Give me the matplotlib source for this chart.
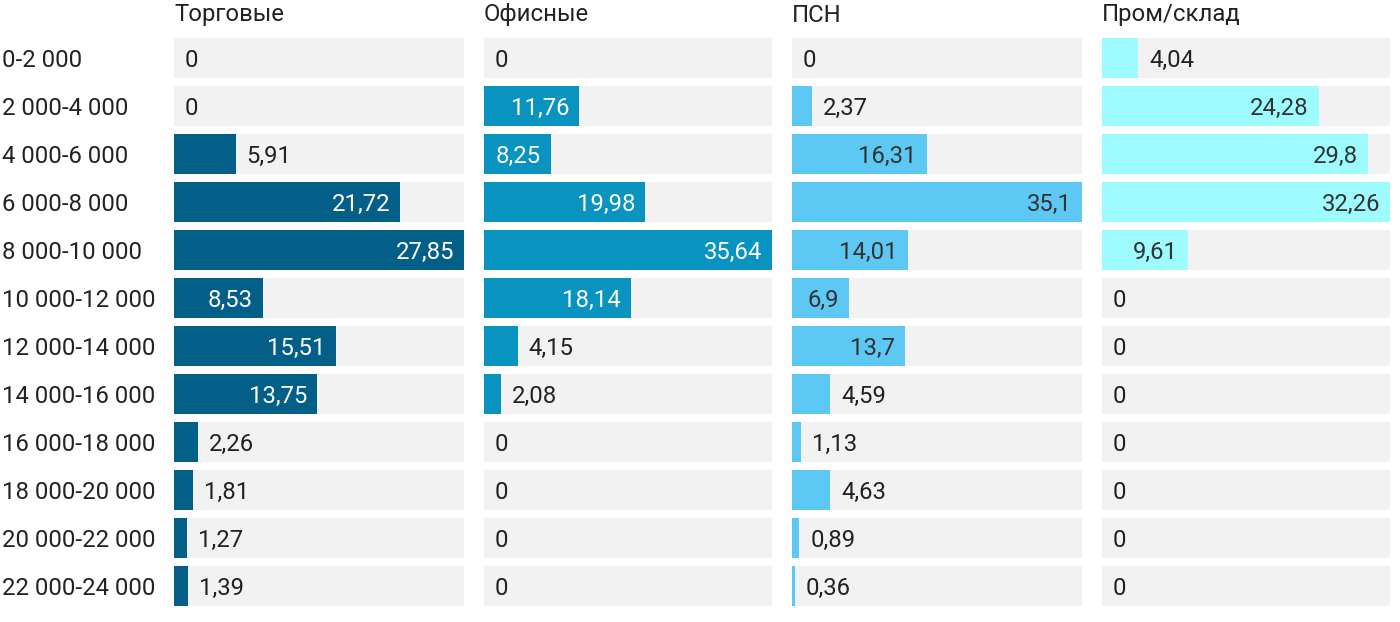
import numpy as np
import matplotlib
matplotlib.use("Agg")
from matplotlib import pyplot as plt

plt.rcParams['font.family'] = ['Roboto', 'DejaVu Sans']

categories = ['0-2 000', '2 000-4 000', '4 000-6 000', '6 000-8 000', '8 000-10 000',
              '10 000-12 000', '12 000-14 000', '14 000-16 000', '16 000-18 000',
              '18 000-20 000', '20 000-22 000', '22 000-24 000']

titles = ['Торговые', 'Офисные', 'ПСН', 'Пром/склад']

torg = [0, 0, 5.91, 21.72, 27.85, 8.53, 15.51, 13.75, 2.26, 1.81, 1.27, 1.39]
ofis = [0, 11.76, 8.25, 19.98, 35.64, 18.14, 4.15, 2.08, 0, 0, 0, 0]
psn = [0, 2.37, 16.31, 35.1, 14.01, 6.9, 13.7, 4.59, 1.13, 4.63, 0.89, 0.36]
prom = [4.04, 24.28, 29.8, 32.26, 9.61, 0, 0, 0, 0, 0, 0, 0]

series = [torg, ofis, psn, prom]
colors = ['#035f88', '#0893c1', '#5ec8f4', '#9efcfe']
inside_text = ['white', 'white', '#333333', '#333333']

W, H = 1400, 622
fig = plt.figure(figsize=(W / 100, H / 100), dpi=100)
renderer = fig.canvas.get_renderer()

panels = [(174, 464), (484, 772), (792, 1082), (1102, 1390)]
top_px, bot_px = 34, 610
fs = 17.2

def fmt(v):
    s = ('%.2f' % v).rstrip('0').rstrip('.')
    return s.replace('.', ',')

y = np.arange(len(categories))
for k, (x0, x1) in enumerate(panels):
    ax = fig.add_axes([x0 / W, 1 - bot_px / H, (x1 - x0) / W, (bot_px - top_px) / H])
    vals = series[k]
    vmax = max(vals)
    ax.barh(y, [vmax] * len(y), height=40 / 48, color='#f2f2f2')
    ax.barh(y, vals, height=40 / 48, color=colors[k])
    ax.set_xlim(0, vmax)
    ax.set_ylim(len(y) - 0.5, -0.5)
    ax.axis('off')
    px_per = (x1 - x0) / vmax
    for i, v in enumerate(vals):
        s = fmt(v)
        t = ax.text(0, i, s, fontsize=fs, va='center_baseline')
        tw = t.get_window_extent(renderer).width
        bar_px = v * px_per
        # label goes inside the bar when it fits with some padding
        if v > 0 and bar_px >= tw + 19:
            t.set_x(v - 10 / px_per)
            t.set_ha('right')
            t.set_color(inside_text[k])
        else:
            t.set_x(v + 11 / px_per)
            t.set_ha('left')
            t.set_color('#222222')
    fig.text(x0 / W, 1 - 15 / H, titles[k], fontsize=fs, color='#222222',
             ha='left', va='center')

for i, c in enumerate(categories):
    fig.text(2 / W, 1 - (58 + 48 * i) / H, c, fontsize=fs, color='#222222',
             ha='left', va='center_baseline')

fig.savefig('out.png', dpi=100)
